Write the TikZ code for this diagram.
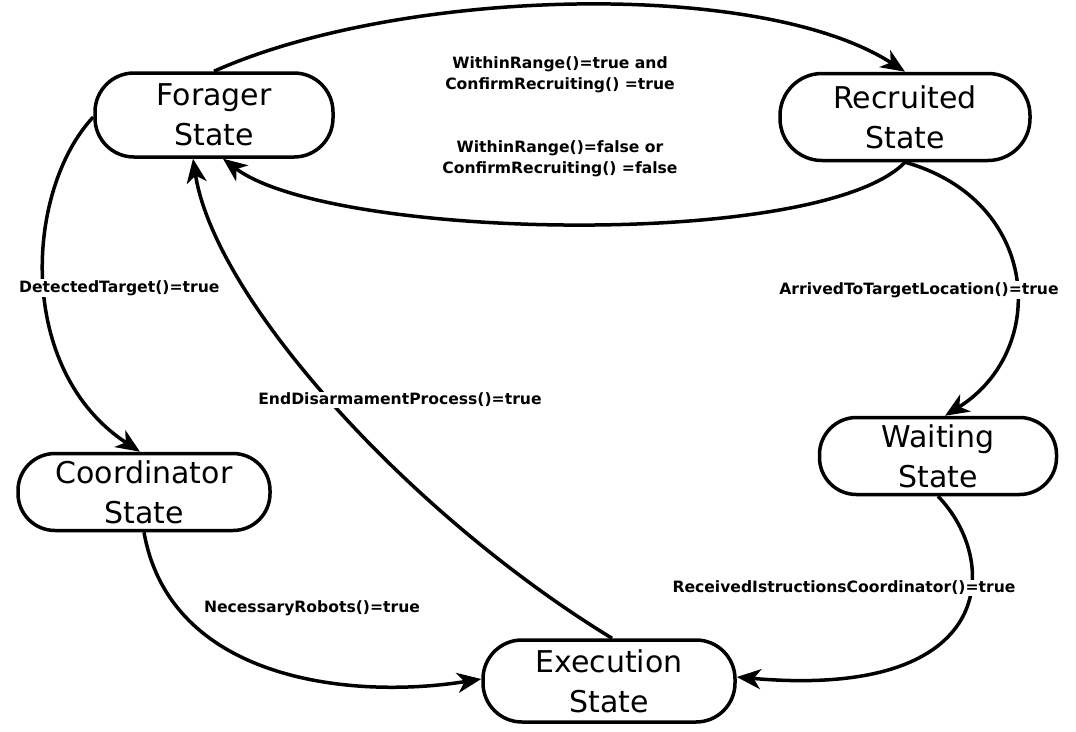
\documentclass[tikz,border=0pt]{standalone}
\usepackage{fontspec}
\setmainfont{DejaVu Sans}
\usetikzlibrary{arrows.meta}
\begin{document}
\begin{tikzpicture}[x=1pt,y=-1pt,
  state/.style={draw=black,line width=3.5pt,fill=white,rounded corners=39pt,
    minimum height=80pt,align=center,inner sep=0pt,
    font=\fontsize{30}{40}\selectfont},
  lbl/.style={fill=white,inner sep=1pt,align=center,
    font=\bfseries\fontsize{15.6}{21}\selectfont},
  edge/.style={line width=3.5pt,-{Stealth[length=24pt,width=20pt,inset=7pt]}}]
\useasboundingbox (0,0) rectangle (1076,731);
\node[state,minimum width=238pt,minimum height=84pt] (F) at (214,115) {Forager\\State};
\node[state,minimum width=250pt,minimum height=87pt,rounded corners=42pt] (R) at (905,117) {Recruited\\State};
\node[state,minimum width=252pt,minimum height=77pt,rounded corners=37pt] (C) at (144,492) {Coordinator\\State};
\node[state,minimum width=237pt,minimum height=77pt,rounded corners=37pt] (W) at (938,456) {Waiting\\State};
\node[state,minimum width=252pt,minimum height=82pt] (E) at (609,681) {Execution\\State};
\coordinate (a1) at (400,-12); \coordinate (a2) at (760,-22);
\draw[edge] (F.north) .. controls (a1) and (a2) .. (R.north);
\coordinate (b1) at (820,250); \coordinate (b2) at (330,240);
\draw[edge] (R.south) .. controls (b1) and (b2) .. ([xshift=9pt]F.south);
\coordinate (c1) at (25,190); \coordinate (c2) at (15,370);
\draw[edge] ([yshift=-2pt]F.west) .. controls (c1) and (c2) .. ([xshift=-4pt]C.north);
\coordinate (d1) at (1040,200); \coordinate (d2) at (1050,350);
\draw[edge] (R.south) .. controls (d1) and (d2) .. ([xshift=7pt]W.north);
\coordinate (e1) at (1000,560); \coordinate (e2) at (1000,700);
\draw[edge] (W.south) .. controls (e1) and (e2) .. ([yshift=4pt]E.east);
\coordinate (f1) at (170,680); \coordinate (f2) at (350,700);
\draw[edge] (C.south) .. controls (f1) and (f2) .. ([yshift=2pt]E.west);
\coordinate (g1) at (410,515); \coordinate (g2) at (215,300);
\draw[edge] ([xshift=3pt]E.north) .. controls (g1) and (g2) .. ([xshift=-21pt]F.south);
\node[lbl] (l1) at (560,75) {WithinRange()=true and\\ConfirmRecruiting() =true};
\node[lbl] (l2) at (560,159) {WithinRange()=false or\\ConfirmRecruiting() =false};
\node[lbl,anchor=west] (l3) at (18,288) {DetectedTarget()=true};
\node[lbl] (l4) at (919,290) {ArrivedToTargetLocation()=true};
\node[lbl] (l5) at (400,400) {EndDisarmamentProcess()=true};
\node[lbl] (l6) at (312,608) {NecessaryRobots()=true};
\node[lbl] (l7) at (844,588) {ReceivedIstructionsCoordinator()=true};
\end{tikzpicture}
\end{document}
